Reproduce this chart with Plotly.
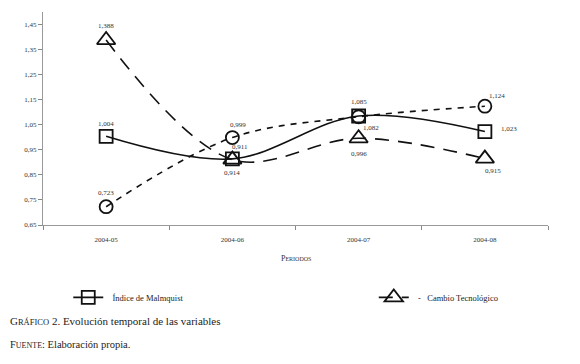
import plotly.graph_objects as go

periods = ["2004-05", "2004-06", "2004-07", "2004-08"]
malmquist = [1.004, 0.914, 1.085, 1.023]
cambio_tec = [1.388, 0.911, 0.996, 0.915]
eficiencia = [0.723, 0.999, 1.082, 1.124]
y_ticks = [0.65, 0.75, 0.85, 0.95, 1.05, 1.15, 1.25, 1.35, 1.45]
y_ticktext = [f"{v:.2f}".replace(".", ",") for v in y_ticks]

SERIF = "Liberation Serif"

def fmt(v):
    return f"{v:.3f}".replace(".", ",")

fig = go.Figure()
fig.add_trace(go.Scatter(
    x=periods, y=malmquist, name="  Índice de Malmquist", mode="lines+markers", legend="legend",
    line=dict(color="#111", width=1.6, shape="spline"),
    marker=dict(symbol="square-open", size=13, color="#111", line=dict(width=1.8)),
))
fig.add_trace(go.Scatter(
    x=periods, y=eficiencia, name="Eficiencia", mode="lines+markers", showlegend=False,
    line=dict(color="#111", width=1.6, shape="spline", dash="6px,6px"),
    marker=dict(symbol="circle-open", size=13, color="#111", line=dict(width=1.8)),
))
fig.add_trace(go.Scatter(
    x=periods, y=cambio_tec, name="  -   Cambio Tecnológico", mode="lines+markers", legend="legend2",
    line=dict(color="#111", width=1.6, shape="spline", dash="14px,9px"),
    marker=dict(symbol="triangle-up-open", size=16, color="#111", line=dict(width=1.8)),
))

# value labels: (series values, index, xshift, yshift)
label_specs = [
    (cambio_tec, 0, 0, 14),
    (malmquist, 0, 0, 12),
    (eficiencia, 0, 0, 14),
    (eficiencia, 1, 6, 13),
    (cambio_tec, 1, 8, 13),
    (malmquist, 1, 0, -14),
    (malmquist, 2, 0, 14),
    (eficiencia, 2, 12, -11),
    (cambio_tec, 2, 0, -16),
    (eficiencia, 3, 12, 10),
    (malmquist, 3, 24, 3),
    (cambio_tec, 3, 8, -12),
]
for series, i, xs, ys in label_specs:
    fig.add_annotation(x=periods[i], y=series[i], text=fmt(series[i]), showarrow=False,
                       xshift=xs, yshift=ys, font=dict(family=SERIF, size=7, color="#333333"))

fig.add_annotation(xref="paper", yref="paper", x=0.5, y=-0.19, text="P<span style='font-size:6px'>ERIODOS</span>",
                   showarrow=False, font=dict(family=SERIF, size=8, color="#333333"))
fig.add_annotation(xref="paper", yref="paper", x=-0.07, xanchor="left", y=-0.49,
                   text="G<span style='font-size:8.5px'>RÁFICO</span> 2. Evolución temporal de las variables",
                   showarrow=False, font=dict(family=SERIF, size=11, color="#222222"))
fig.add_annotation(xref="paper", yref="paper", x=-0.07, xanchor="left", y=-0.595,
                   text="F<span style='font-size:8px'>UENTE</span>: Elaboración propia.",
                   showarrow=False, font=dict(family=SERIF, size=10.5, color="#222222"))

legend_common = dict(orientation="h", yanchor="middle", y=-0.34, xanchor="left",
                     font=dict(family=SERIF, size=8.5, color="#222222"), bgcolor="rgba(0,0,0,0)")

fig.update_layout(
    width=580, height=364,
    margin=dict(l=43, r=32, t=12, b=139),
    paper_bgcolor="white", plot_bgcolor="white",
    font=dict(family=SERIF, color="#333333"),
    showlegend=True,
    legend=dict(x=0.05, **legend_common),
    legend2=dict(x=0.655, **legend_common),
    xaxis=dict(type="category", range=[-0.5, 3.5], tickson="boundaries", ticks="outside",
               ticklen=4, tickcolor="#888", showline=True, linecolor="#999", linewidth=1,
               ticklabelstandoff=8,
               showgrid=False, zeroline=False, tickfont=dict(family=SERIF, size=7, color="#333333")),
    yaxis=dict(range=[0.65, 1.50], tickvals=y_ticks, ticktext=y_ticktext, ticks="outside",
               ticklen=4, tickcolor="#888", showline=True, linecolor="#999", linewidth=1,
               showgrid=False, zeroline=False, tickfont=dict(family=SERIF, size=7, color="#333333")),
)

fig.write_html("out.html")
